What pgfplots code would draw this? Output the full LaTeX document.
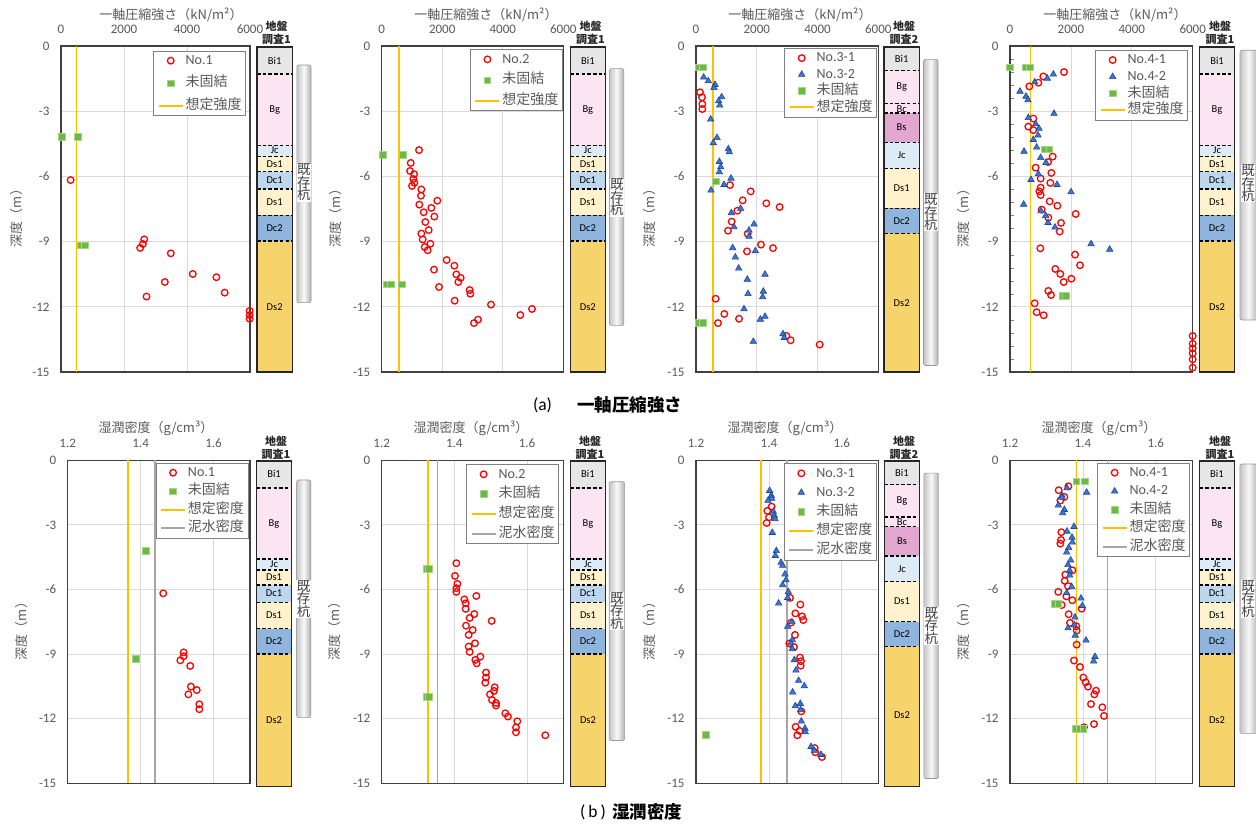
\documentclass[border=0pt]{standalone}
\usepackage{fontspec}
\setmainfont{Carlito}
\newfontfamily\jp{Noto Sans CJK JP}
\usepackage{pgfplots}
\pgfplotsset{compat=1.18}

\definecolor{tickc}{RGB}{89,89,89}
\definecolor{axc}{RGB}{64,64,64}
\definecolor{gridc}{RGB}{217,217,217}
\definecolor{legc}{RGB}{128,128,128}
\definecolor{oran}{RGB}{255,192,0}
\definecolor{mudc}{RGB}{166,166,166}
\definecolor{trif}{RGB}{60,120,210}
\definecolor{trie}{RGB}{30,70,150}
\definecolor{sqf}{RGB}{110,185,70}
\definecolor{sqe}{RGB}{165,215,130}
\definecolor{cBi}{RGB}{231,230,230}
\definecolor{cBg}{RGB}{251,229,242}
\definecolor{cBs}{RGB}{226,167,208}
\definecolor{cJc}{RGB}{221,235,247}
\definecolor{cDsa}{RGB}{255,242,204}
\definecolor{cDca}{RGB}{189,215,238}
\definecolor{cDcb}{RGB}{143,180,222}
\definecolor{cDsb}{RGB}{247,211,108}

\pgfplotsset{
  dax/.style={scale only axis, anchor=south west, clip=false,
    ymin=-15, ymax=0, ytick={-15,-12,-9,-6,-3,0}, yticklabels={-15,-12,-9,-6,-3,0},
    xticklabel pos=upper, major tick length=0pt,
    grid=major, grid style={draw=gridc, line width=0.8pt},
    axis line style={draw=axc, line width=1.4pt},
    tick label style={font=\fontsize{13}{15}\selectfont, text=tickc},
    xticklabel shift=9pt, yticklabel shift=8pt,
    legend cell align=left,
    legend style={draw=legc, line width=0.8pt, fill=white, font=\fontsize{14}{16}\selectfont, text=tickc, anchor=north east, inner xsep=4pt, inner ysep=3pt, nodes={inner sep=0pt, text height=10.5pt, text depth=3pt}, /tikz/every odd column/.append style={column sep=2pt}},
    legend image code/.code={\draw[mark repeat=2,mark phase=2,##1] plot coordinates {(0pt,0pt)(12pt,0pt)(24pt,0pt)};},
  },
  qax/.style={dax, xmin=0, xmax=6000, xtick={0,2000,4000,6000}, xticklabels={0,2000,4000,6000}, height=326pt},
  rax/.style={dax, xmin=1.2, xmax=1.7, xtick={1.2,1.4,1.6}, xticklabels={1.2,1.4,1.6}, height=323pt},
  pr/.style={only marks, mark=o, red, mark size=3.3pt, mark options={line width=1.3pt}},
  pb/.style={only marks, mark=triangle*, trie, mark size=3.7pt, mark options={fill=trif, draw=trie, line width=0.6pt}},
  pg/.style={only marks, mark=square*, sqf, mark size=3.3pt, mark options={fill=sqf, draw=sqe, line width=0.8pt}},
  lo/.style={draw=oran, line width=1.5pt},
  lm/.style={draw=mudc, line width=1.5pt},
  sax/.style={scale only axis, anchor=south west, clip=false, axis on top, xmin=0, xmax=1, ymax=0, width=35.3pt, xtick=\empty, ytick=\empty, axis line style={draw=black!85, line width=1.4pt}},
  dl/.style={black, line width=1.3pt, dash pattern=on 3.5pt off 2.2pt, forget plot},
  pilestyle/.style={draw=gray!80, line width=0.6pt, left color=gray!45, right color=gray!60, middle color=gray!5, rounded corners=2pt, forget plot},
}
\tikzset{lyr/.style={font=\fontsize{10.5}{12}\selectfont, text=black, inner sep=0pt},
  pilelab/.style={fill=white, inner sep=0.5pt, align=center, font=\jp\fontsize{13.5}{12.5}\selectfont, text=black!75},
  hdr/.style={align=center, font=\jp\bfseries\fontsize{11}{13}\selectfont, text=black!85},
  ttl/.style={font=\jp\fontsize{13}{15}\selectfont, text=tickc},
  captx/.style={font=\fontsize{17.5}{20}\selectfont, text=black}}

\newcommand{\lego}{\addlegendimage{legend image code/.code={\draw[draw=oran, line width=1.8pt] (0pt,0pt) -- (24pt,0pt);}}}
\newcommand{\legm}{\addlegendimage{legend image code/.code={\draw[draw=mudc, line width=1.8pt] (0pt,0pt) -- (24pt,0pt);}}}
\newcommand{\lay}[3]{\addplot[draw=none, fill=#3, forget plot] coordinates {(0,#1)(1,#1)(1,#2)(0,#2)} -- cycle;}
\newcommand{\dsh}[1]{\addplot[dl] coordinates {(0,#1)(1,#1)};}
\newcommand{\soilA}[1]{%
 \lay{0}{-1.25}{cBi}\lay{-1.25}{-4.55}{cBg}\lay{-4.55}{-5.05}{cJc}\lay{-5.05}{-5.75}{cDsa}
 \lay{-5.75}{-6.55}{cDca}\lay{-6.55}{-7.77}{cDsa}\lay{-7.77}{-8.95}{cDcb}\lay{-8.95}{#1}{cDsb}
 \dsh{-1.25}\dsh{-4.55}\dsh{-5.05}\dsh{-5.75}\dsh{-6.55}\dsh{-7.77}\dsh{-8.95}
 \node[lyr] at (axis cs:0.5,-0.62) {Bi1};
 \node[lyr] at (axis cs:0.5,-2.9) {Bg};
 \node[lyr] at (axis cs:0.5,-4.78) {Jc};
 \node[lyr] at (axis cs:0.5,-5.4) {Ds1};
 \node[lyr] at (axis cs:0.5,-6.15) {Dc1};
 \node[lyr] at (axis cs:0.5,-7.16) {Ds1};
 \node[lyr] at (axis cs:0.5,-8.36) {Dc2};
 \node[lyr] at (axis cs:0.5,-12.0) {Ds2};
}
\newcommand{\soilB}[1]{%
 \lay{0}{-1.1}{cBi}\lay{-1.1}{-2.6}{cBg}\lay{-2.6}{-3.05}{cBg}\lay{-3.05}{-4.4}{cBs}
 \lay{-4.4}{-5.6}{cJc}\lay{-5.6}{-7.45}{cDsa}\lay{-7.45}{-8.6}{cDcb}\lay{-8.6}{#1}{cDsb}
 \dsh{-1.1}\dsh{-2.6}\dsh{-3.05}\dsh{-4.4}\dsh{-5.6}\dsh{-7.45}\dsh{-8.6}
 \node[lyr] at (axis cs:0.5,-0.55) {Bi1};
 \node[lyr] at (axis cs:0.5,-1.85) {Bg};
 \node[lyr] at (axis cs:0.5,-2.85) {Bc};
 \node[lyr] at (axis cs:0.5,-3.72) {Bs};
 \node[lyr] at (axis cs:0.5,-5.0) {Jc};
 \node[lyr] at (axis cs:0.5,-6.52) {Ds1};
 \node[lyr] at (axis cs:0.5,-8.02) {Dc2};
 \node[lyr] at (axis cs:0.5,-11.8) {Ds2};
}
% pile: x1 x2 top bottom labely labelx
\newcommand{\pile}[6]{%
 \addplot[pilestyle] coordinates {(#1,#3)(#2,#3)(#2,#4)(#1,#4)} -- cycle;
 \node[pilelab] at (axis cs:#6,#5) {既\\存\\杭};
}

\begin{document}
\begin{tikzpicture}[x=1pt,y=1pt]
\useasboundingbox (0,0) rectangle (1256,825);

% ================= (a) top row =================
% a1
\begin{axis}[qax, at={(61pt,453pt)}, width=189pt, legend style={at={(rel axis cs:0.979,0.986)}, row sep=9pt}]
\addplot[lo, forget plot] coordinates {(500,0)(500,-15)};
\addplot[pr] coordinates {(306,-6.17)(2641,-8.90)(2599,-9.11)(2514,-9.29)(3486,-9.54)(4183,-10.49)(4933,-10.64)(3296,-10.86)(5197,-11.35)(2715,-11.53)(5989,-12.19)(5989,-12.38)(5989,-12.55)};
\addlegendentry{No.1}
\addplot[pg] coordinates {(21,-4.19)(528,-4.19)(620,-9.17)(750,-9.17)};
\addlegendentry{\jp 未固結}
\lego
\addlegendentry{\jp 想定強度}
\end{axis}
\begin{axis}[sax, at={(257pt,453pt)}, height=325pt, ymin=-15]
\soilA{-15}
\pile{1.13}{1.53}{-0.83}{-11.8}{-6.26}{1.33}
\end{axis}

% a2
\begin{axis}[qax, at={(381.7pt,453pt)}, width=181.6pt, legend style={at={(rel axis cs:0.997,0.99)}, row sep=7.3pt}]
\addplot[lo, forget plot] coordinates {(570,0)(570,-15)};
\addplot[pr] coordinates {(1233,-4.79)(958,-5.38)(936,-5.75)(1068,-5.90)(1046,-6.12)(1079,-6.29)(1002,-6.44)(1310,-6.60)(1299,-6.89)(1838,-7.12)(1244,-7.30)(1640,-7.45)(1387,-7.65)(1739,-7.85)(1442,-8.10)(1552,-8.47)(1310,-8.63)(1354,-8.90)(1607,-9.10)(1420,-9.25)(1519,-9.40)(2147,-9.85)(2400,-10.11)(1728,-10.29)(2466,-10.51)(2609,-10.67)(2532,-10.86)(1893,-11.09)(2906,-11.23)(2928,-11.40)(2411,-11.72)(3611,-11.90)(4965,-12.10)(4580,-12.38)(3182,-12.59)(3049,-12.75)};
\addlegendentry{No.2}
\addplot[pg] coordinates {(33,-5.02)(694,-5.02)(165,-10.97)(300,-10.97)(661,-10.97)};
\addlegendentry{\jp 未固結}
\lego
\addlegendentry{\jp 想定強度}
\end{axis}
\begin{axis}[sax, at={(570.2pt,453pt)}, height=325pt, ymin=-15]
\soilA{-15}
\pile{1.11}{1.52}{-1.0}{-12.85}{-6.95}{1.32}
\end{axis}

% a3
\begin{axis}[qax, at={(696pt,453pt)}, width=182.3pt, legend style={at={(rel axis cs:0.993,0.994)}, row sep=2.9pt}]
\addplot[lo, forget plot] coordinates {(560,0)(560,-15)};
\addplot[pr] coordinates {(132,-2.13)(197,-2.36)(208,-2.67)(208,-2.90)(1119,-6.40)(1799,-6.69)(1536,-7.10)(2314,-7.24)(2753,-7.41)(1360,-7.58)(1174,-8.08)(1053,-8.50)(1700,-8.64)(2139,-9.14)(2534,-9.30)(1678,-9.45)(647,-11.63)(932,-12.33)(1415,-12.55)(724,-12.75)(2973,-13.34)(3115,-13.54)(4070,-13.74)};
\addlegendentry{No.3-1}
\addplot[pb] coordinates {(252,-1.44)(406,-1.61)(625,-1.78)(592,-1.92)(845,-2.35)(746,-2.53)(779,-2.73)(483,-3.37)(691,-4.22)(570,-4.46)(1064,-4.74)(1097,-4.88)(768,-5.32)(812,-5.57)(768,-5.80)(1152,-6.09)(922,-6.38)(494,-6.64)(1470,-7.48)(1163,-7.68)(1909,-8.20)(1250,-8.33)(1744,-8.48)(1744,-8.76)(1207,-9.29)(1953,-9.43)(1294,-9.72)(1404,-10.23)(2271,-10.51)(1689,-10.74)(2216,-11.29)(1711,-11.40)(2194,-11.55)(1580,-12.10)(2271,-12.45)(2117,-12.58)(2863,-13.25)(2907,-13.42)(1887,-13.60)};
\addlegendentry{No.3-2}
\addplot[pg] coordinates {(100,-0.98)(220,-0.98)(658,-6.23)(100,-12.73)(220,-12.73)};
\addlegendentry{\jp 未固結}
\lego
\addlegendentry{\jp 想定強度}
\end{axis}
\begin{axis}[sax, at={(884pt,453pt)}, height=325pt, ymin=-15]
\soilB{-15}
\pile{1.12}{1.53}{-0.57}{-14.7}{-7.64}{1.33}
\end{axis}

% a4
\begin{axis}[qax, at={(1010pt,453pt)}, width=182.7pt, legend style={at={(rel axis cs:0.974,0.988)}, row sep=3.2pt},
  minor y tick num=4, minor tick length=4pt, ytick align=inside, ytick pos=left]
\addplot[lo, forget plot] coordinates {(680,0)(680,-15)};
\addplot[pr] coordinates {(1774,-1.20)(1095,-1.40)(931,-1.69)(635,-1.86)(766,-3.34)(602,-3.71)(766,-3.87)(1401,-5.09)(1248,-5.34)(843,-5.60)(1358,-5.84)(1007,-6.10)(1325,-6.30)(1007,-6.52)(964,-6.69)(1007,-6.86)(1303,-7.15)(1555,-7.35)(1040,-7.53)(2157,-7.73)(1259,-7.90)(1675,-8.14)(1631,-8.54)(996,-9.31)(2135,-9.60)(2299,-10.09)(1489,-10.26)(1653,-10.49)(2015,-10.71)(1763,-10.86)(1259,-11.27)(1347,-11.46)(810,-11.84)(876,-12.25)(1106,-12.39)(6000,-13.34)(6000,-13.70)(6000,-13.91)(6000,-14.14)(6000,-14.42)(6000,-14.80)};
\addlegendentry{No.4-1}
\addplot[pb] coordinates {(1423,-1.30)(1226,-1.49)(810,-1.66)(328,-2.09)(526,-2.32)(591,-2.48)(1445,-3.11)(602,-3.30)(843,-3.59)(953,-3.80)(920,-4.11)(766,-4.31)(876,-4.66)(460,-4.85)(1007,-5.14)(1182,-5.37)(931,-5.89)(690,-6.15)(1544,-6.38)(2004,-6.72)(449,-7.29)(1018,-7.59)(1172,-7.81)(1248,-8.13)(1478,-8.34)(2661,-9.11)(3274,-9.36)};
\addlegendentry{No.4-2}
\addplot[pg] coordinates {(0,-0.98)(526,-0.98)(657,-0.98)(1150,-4.75)(1292,-4.75)(1719,-11.49)(1839,-11.49)};
\addlegendentry{\jp 未固結}
\lego
\addlegendentry{\jp 想定強度}
\end{axis}
\begin{axis}[sax, at={(1199.4pt,453pt)}, height=325pt, ymin=-15]
\soilA{-15}
\pile{1.15}{1.65}{-0.15}{-12.6}{-6.3}{1.38}
\end{axis}

% ================= (b) bottom row =================
% b1
\begin{axis}[rax, at={(67.7pt,41.7pt)}, width=182.3pt, legend style={at={(rel axis cs:0.991,0.993)}, row sep=5pt}]
\addplot[lo, forget plot] coordinates {(1.366,0)(1.366,-15)};
\addplot[lm, forget plot] coordinates {(1.44,0)(1.44,-15)};
\addplot[pr] coordinates {(1.462,-6.18)(1.518,-8.92)(1.518,-9.10)(1.509,-9.29)(1.536,-9.55)(1.538,-10.51)(1.554,-10.67)(1.531,-10.87)(1.561,-11.33)(1.561,-11.56)};
\addlegendentry{No.1}
\addplot[pg] coordinates {(1.414,-4.20)(1.387,-9.21)};
\addlegendentry{\jp 未固結}
\lego
\addlegendentry{\jp 想定密度}
\legm
\addlegendentry{\jp 泥水密度}
\end{axis}
\begin{axis}[sax, at={(256.4pt,38.3pt)}, height=325.7pt, ymin=-15.1]
\soilA{-15.1}
\pile{1.14}{1.54}{-0.88}{-11.9}{-6.4}{1.34}
\end{axis}

% b2
\begin{axis}[rax, at={(381.7pt,41.7pt)}, width=181.6pt, legend style={at={(rel axis cs:0.976,0.988)}, row sep=6.3pt}]
\addplot[lo, forget plot] coordinates {(1.328,0)(1.328,-15)};
\addplot[lm, forget plot] coordinates {(1.353,0)(1.353,-15)};
\addplot[pr] coordinates {(1.4055,-4.78)(1.4018,-5.37)(1.4083,-5.74)(1.4055,-5.94)(1.4055,-6.11)(1.4606,-6.30)(1.4275,-6.46)(1.4312,-6.64)(1.4312,-6.90)(1.4550,-7.14)(1.4422,-7.32)(1.5028,-7.46)(1.4321,-7.68)(1.4505,-7.88)(1.4394,-8.11)(1.4569,-8.50)(1.4394,-8.65)(1.4422,-8.90)(1.4716,-9.12)(1.4578,-9.27)(1.4615,-9.43)(1.4872,-9.86)(1.4872,-10.09)(1.4853,-10.33)(1.5110,-10.54)(1.5092,-10.71)(1.4982,-10.87)(1.5037,-11.13)(1.5147,-11.27)(1.5147,-11.39)(1.5404,-11.75)(1.5477,-11.90)(1.5734,-12.12)(1.5697,-12.41)(1.5697,-12.63)(1.6505,-12.77)};
\addlegendentry{No.2}
\addplot[pg] coordinates {(1.323,-5.03)(1.330,-5.03)(1.323,-10.98)(1.330,-10.98)};
\addlegendentry{\jp 未固結}
\lego
\addlegendentry{\jp 想定密度}
\legm
\addlegendentry{\jp 泥水密度}
\end{axis}
\begin{axis}[sax, at={(570.3pt,38.3pt)}, height=325.7pt, ymin=-15.1]
\soilA{-15.1}
\pile{1.10}{1.54}{-0.96}{-12.96}{-6.95}{1.32}
\end{axis}

% b3
\begin{axis}[rax, at={(696pt,41.7pt)}, width=182.3pt, legend style={at={(rel axis cs:0.991,0.991)}, row sep=5.7pt}]
\addplot[lo, forget plot] coordinates {(1.378,0)(1.378,-15)};
\addplot[lm, forget plot] coordinates {(1.449,0)(1.449,-15)};
\addplot[pr] coordinates {(1.4075,-2.15)(1.3956,-2.35)(1.4002,-2.65)(1.3938,-2.91)(1.4578,-6.39)(1.4861,-6.70)(1.4724,-7.11)(1.4907,-7.25)(1.4943,-7.42)(1.4605,-7.54)(1.4715,-8.11)(1.4559,-8.51)(1.4687,-8.67)(1.4852,-9.16)(1.4879,-9.33)(1.4870,-9.54)(1.4888,-11.66)(1.4733,-12.38)(1.4843,-12.57)(1.4779,-12.77)(1.5254,-13.36)(1.5272,-13.56)(1.5455,-13.78)};
\addlegendentry{No.3-1}
\addplot[pb] coordinates {(1.4020,-1.41)(1.4066,-1.64)(1.4075,-1.77)(1.3975,-1.87)(1.4121,-2.38)(1.4148,-2.57)(1.4166,-2.72)(1.4093,-3.36)(1.4203,-4.20)(1.4175,-4.43)(1.4331,-4.75)(1.4376,-4.89)(1.4441,-5.29)(1.4468,-5.56)(1.4376,-5.79)(1.4532,-6.11)(1.4514,-6.38)(1.4267,-6.64)(1.4633,-7.51)(1.4514,-7.72)(1.4642,-8.34)(1.4596,-8.50)(1.4642,-8.75)(1.4697,-9.27)(1.4742,-9.75)(1.4815,-10.23)(1.4970,-10.48)(1.4651,-10.77)(1.4861,-11.30)(1.4724,-11.41)(1.4870,-11.59)(1.4888,-12.12)(1.4989,-12.45)(1.4998,-12.62)(1.5154,-13.30)(1.5245,-13.48)(1.5428,-13.67)};
\addlegendentry{No.3-2}
\addplot[pg] coordinates {(1.2274,-12.74)};
\addlegendentry{\jp 未固結}
\lego
\addlegendentry{\jp 想定密度}
\legm
\addlegendentry{\jp 泥水密度}
\end{axis}
\begin{axis}[sax, at={(884.3pt,38.3pt)}, height=325.7pt, ymin=-15.1]
\soilB{-15.1}
\pile{1.12}{1.54}{-0.56}{-14.72}{-7.65}{1.33}
\end{axis}

% b4
\begin{axis}[rax, at={(1010pt,41.7pt)}, width=182.3pt, legend style={at={(rel axis cs:0.987,0.993)}, row sep=5pt}]
\addplot[lo, forget plot] coordinates {(1.383,0)(1.383,-15)};
\addplot[lm, forget plot] coordinates {(1.468,0)(1.468,-15)};
\addplot[pr] coordinates {(1.360,-1.21)(1.3335,-1.39)(1.349,-1.70)(1.338,-1.87)(1.3408,-3.34)(1.340,-3.70)(1.338,-3.87)(1.371,-5.11)(1.3517,-5.31)(1.350,-5.60)(1.359,-5.84)(1.3325,-6.11)(1.3545,-6.32)(1.371,-6.50)(1.3417,-6.72)(1.3965,-6.89)(1.3609,-7.15)(1.3645,-7.55)(1.3819,-7.71)(1.3828,-7.91)(1.3828,-8.56)(1.3755,-9.30)(1.392,-9.60)(1.4011,-10.09)(1.4075,-10.31)(1.4139,-10.51)(1.4358,-10.70)(1.4313,-10.87)(1.4221,-11.32)(1.4532,-11.47)(1.4578,-11.87)(1.4304,-12.25)(1.4029,-12.40)};
\addlegendentry{No.4-1}
\addplot[pb] coordinates {(1.3563,-1.29)(1.4102,-1.49)(1.3426,-1.63)(1.3417,-1.73)(1.3325,-2.09)(1.349,-2.29)(1.3444,-2.45)(1.3755,-3.08)(1.3563,-3.30)(1.37,-3.58)(1.371,-3.81)(1.3609,-4.06)(1.3554,-4.27)(1.3664,-4.64)(1.359,-4.85)(1.3636,-5.12)(1.3636,-5.34)(1.3691,-5.87)(1.3554,-6.16)(1.3947,-6.41)(1.3984,-6.75)(1.3782,-7.29)(1.3764,-7.65)(1.359,-7.79)(1.3791,-8.13)(1.4084,-8.36)(1.4331,-9.12)(1.4294,-9.33)};
\addlegendentry{No.4-2}
\addplot[pg] coordinates {(1.3819,-0.98)(1.4057,-0.98)(1.3234,-6.66)(1.3325,-6.66)(1.381,-12.46)(1.392,-12.46)(1.401,-12.46)};
\addlegendentry{\jp 未固結}
\lego
\addlegendentry{\jp 想定密度}
\legm
\addlegendentry{\jp 泥水密度}
\end{axis}
\begin{axis}[sax, at={(1199.3pt,38.3pt)}, height=325.7pt, ymin=-15.1]
\soilA{-15.1}
\pile{1.15}{1.65}{-0.14}{-12.63}{-6.4}{1.38}
\end{axis}

% ================= texts =================
\foreach \xx in {171,486,800,1115} {\node[ttl] at (\xx,810) {一軸圧縮強さ（kN/m²）};}
\foreach \xx in {156,471,785,1099} {\node[ttl] at (\xx,396.7) {湿潤密度（g/cm³）};}
\foreach \xx in {17,336,650,964} {\node[ttl, rotate=90] at (\xx,610) {深度（m）};}
\foreach \xx in {22,335,650,964} {\node[ttl, rotate=90] at (\xx,197) {深度（m）};}
\node[hdr] at (276.5,792) {地盤\\調査1};
\node[hdr] at (590.5,792) {地盤\\調査1};
\node[hdr] at (904,792) {地盤\\調査2};
\node[hdr] at (1220,792) {地盤\\調査1};
\node[hdr] at (276,377) {地盤\\調査1};
\node[hdr] at (590,377) {地盤\\調査1};
\node[hdr] at (904,377) {地盤\\調査2};
\node[hdr] at (1220,377) {地盤\\調査1};
\node[captx] at (542.5,420) {(a)};
\node[captx, anchor=west, inner sep=0pt] at (577,420) {\jp\bfseries 一軸圧縮強さ};
\node[captx] at (593,13) {(\,b\,)};
\node[captx, anchor=west, inner sep=0pt] at (612,13) {\jp\bfseries 湿潤密度};
\end{tikzpicture}
\end{document}
